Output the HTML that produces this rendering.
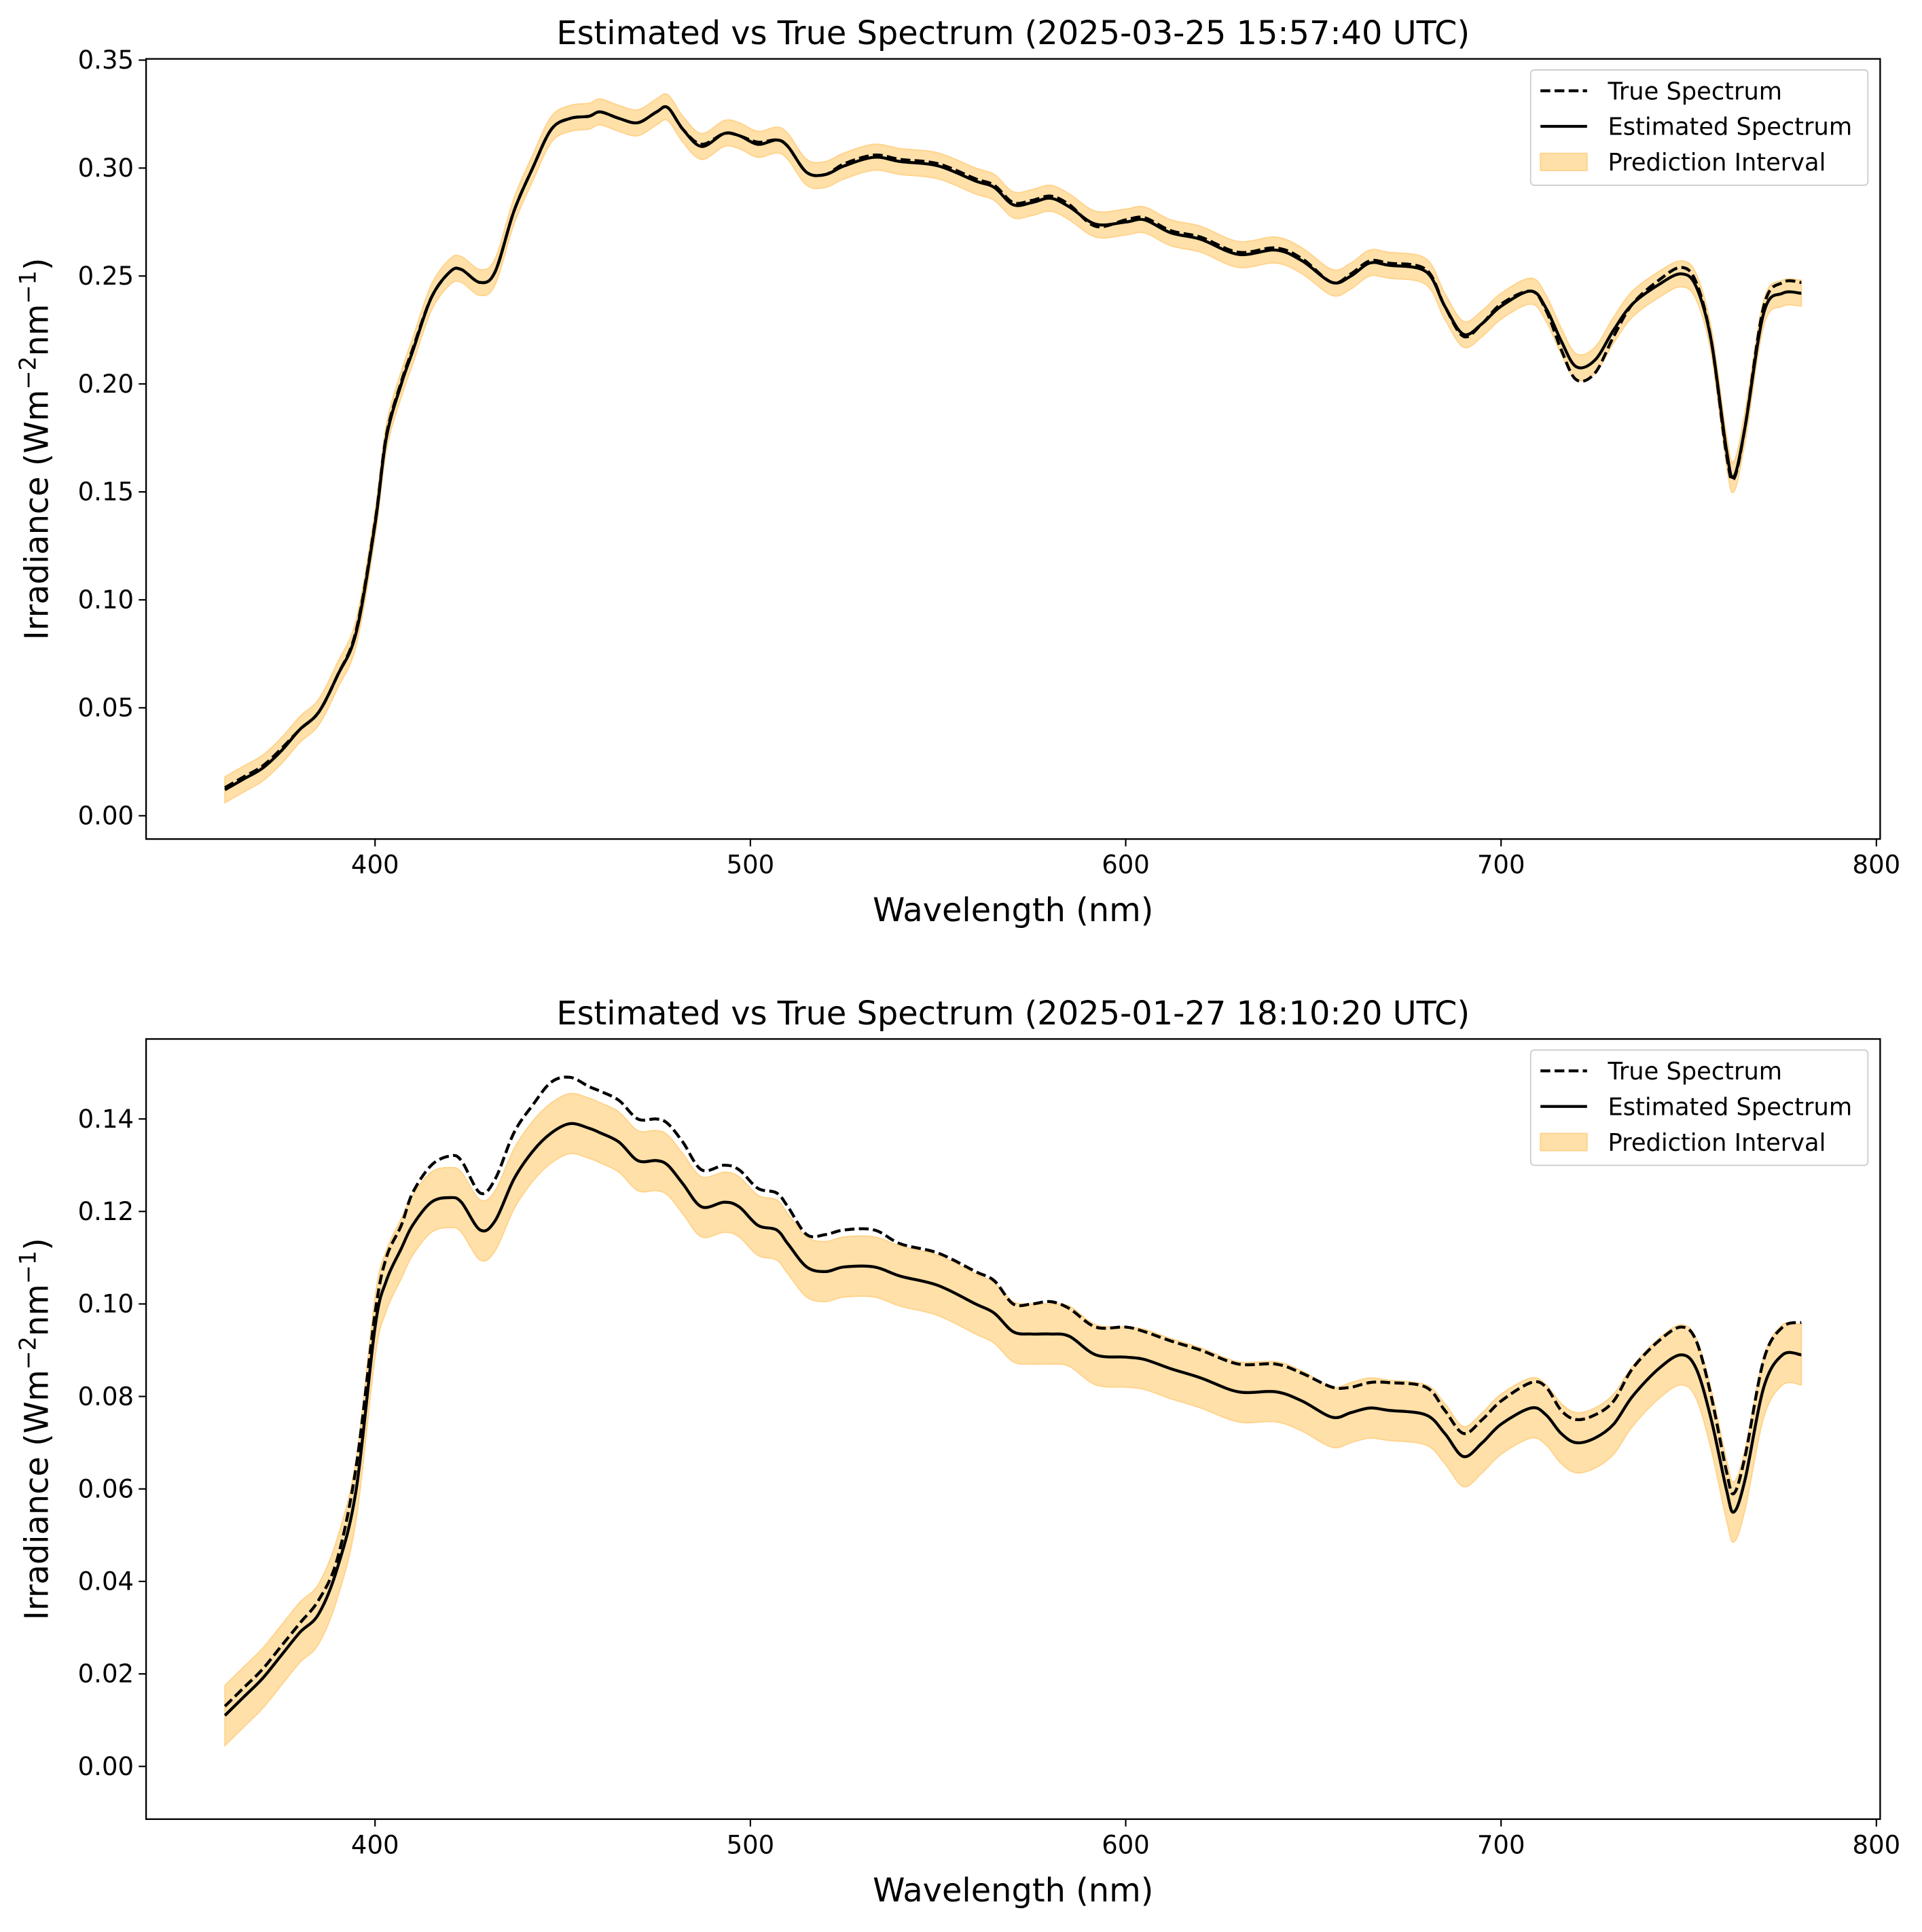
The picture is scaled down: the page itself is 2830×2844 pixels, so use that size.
<!DOCTYPE html>
<html><head><meta charset="utf-8"><style>
html,body{margin:0;padding:0;background:#fff;}
svg{display:block;font-family:"DejaVu Sans","Liberation Sans",sans-serif;}
</style></head><body>
<svg id="chart" width="2830" height="2844" viewBox="0 0 1567 1575" xmlns="http://www.w3.org/2000/svg"></svg>
<script>
const wavelengths=[360,365,370,375,380,385,390,395,400,403,407,410,415,420,423,428,432,437,442,447,452,457,460,465,470,475,478,482,487,493,497,502,507,510,515,520,525,533,540,550,560,565,570,575,580,585,592,600,605,612,620,630,640,647,655,660,665,670,680,685,690,695,700,708,712,716,720,725,730,735,742,748,752,756,760,762,765,770,775,780];
const estTop=[0.012,0.017,0.022,0.030,0.040,0.048,0.065,0.085,0.135,0.175,0.200,0.215,0.240,0.252,0.253,0.247,0.252,0.280,0.300,0.318,0.323,0.324,0.326,0.323,0.321,0.326,0.328,0.318,0.310,0.316,0.315,0.311,0.313,0.310,0.298,0.297,0.301,0.305,0.303,0.301,0.294,0.291,0.283,0.284,0.286,0.282,0.274,0.275,0.276,0.270,0.267,0.260,0.262,0.257,0.247,0.250,0.256,0.255,0.252,0.236,0.223,0.228,0.236,0.243,0.235,0.220,0.208,0.211,0.225,0.237,0.246,0.251,0.245,0.220,0.170,0.157,0.180,0.233,0.242,0.242];
const trueTop=[0.013,0.018,0.023,0.031,0.040,0.048,0.065,0.086,0.136,0.176,0.201,0.216,0.240,0.252,0.253,0.247,0.252,0.280,0.300,0.318,0.323,0.324,0.326,0.323,0.321,0.326,0.328,0.318,0.311,0.316,0.315,0.312,0.313,0.310,0.298,0.297,0.302,0.306,0.304,0.302,0.295,0.292,0.284,0.285,0.287,0.283,0.273,0.276,0.277,0.271,0.268,0.261,0.263,0.258,0.247,0.251,0.257,0.256,0.253,0.236,0.222,0.228,0.237,0.243,0.234,0.216,0.202,0.205,0.222,0.237,0.248,0.254,0.247,0.220,0.168,0.156,0.180,0.236,0.247,0.247];
const bandTop=[0.006,0.006,0.006,0.006,0.006,0.006,0.006,0.006,0.006,0.006,0.006,0.006,0.006,0.006,0.006,0.006,0.006,0.006,0.006,0.006,0.006,0.006,0.006,0.006,0.006,0.006,0.006,0.006,0.006,0.006,0.006,0.006,0.006,0.006,0.006,0.006,0.006,0.006,0.006,0.006,0.006,0.006,0.006,0.006,0.006,0.006,0.006,0.006,0.006,0.006,0.006,0.006,0.006,0.006,0.006,0.006,0.006,0.006,0.006,0.006,0.006,0.006,0.006,0.006,0.006,0.006,0.006,0.006,0.006,0.006,0.006,0.006,0.006,0.006,0.007,0.007,0.007,0.006,0.006,0.006];
const estBot=[0.011,0.015,0.019,0.024,0.029,0.033,0.043,0.060,0.095,0.105,0.112,0.117,0.122,0.123,0.122,0.116,0.118,0.127,0.133,0.137,0.139,0.138,0.137,0.135,0.131,0.131,0.130,0.126,0.121,0.122,0.121,0.117,0.116,0.113,0.108,0.107,0.108,0.108,0.106,0.104,0.100,0.098,0.094,0.0935,0.0935,0.093,0.089,0.0885,0.088,0.086,0.084,0.081,0.081,0.079,0.0755,0.0765,0.0775,0.077,0.076,0.072,0.067,0.070,0.074,0.0775,0.076,0.072,0.070,0.071,0.074,0.080,0.086,0.089,0.086,0.075,0.060,0.055,0.062,0.082,0.089,0.089];
const trueBot=[0.013,0.017,0.021,0.026,0.031,0.036,0.045,0.065,0.098,0.110,0.117,0.124,0.130,0.132,0.131,0.124,0.127,0.137,0.143,0.148,0.149,0.147,0.146,0.144,0.140,0.140,0.139,0.135,0.129,0.130,0.129,0.125,0.124,0.121,0.115,0.115,0.116,0.116,0.113,0.111,0.107,0.105,0.100,0.100,0.1005,0.099,0.095,0.095,0.094,0.092,0.090,0.087,0.087,0.085,0.082,0.082,0.083,0.083,0.082,0.077,0.072,0.075,0.079,0.083,0.082,0.077,0.075,0.076,0.079,0.086,0.092,0.095,0.092,0.080,0.064,0.059,0.067,0.088,0.095,0.096];
const bandBot=[0.0065,0.0065,0.0065,0.0065,0.0065,0.0065,0.0065,0.0065,0.0065,0.0065,0.0065,0.0065,0.0065,0.0065,0.0065,0.0065,0.0065,0.0065,0.0065,0.0065,0.0065,0.0065,0.0065,0.0065,0.0065,0.0065,0.0065,0.0065,0.0065,0.0065,0.0065,0.0065,0.0065,0.0065,0.0065,0.0065,0.0065,0.0065,0.0065,0.0065,0.0065,0.0065,0.0065,0.0065,0.0065,0.0065,0.0065,0.0065,0.0065,0.0065,0.0065,0.0065,0.0065,0.0065,0.0065,0.0065,0.0065,0.0065,0.0065,0.0065,0.0065,0.0065,0.0065,0.0065,0.0065,0.0065,0.0065,0.0065,0.0065,0.0065,0.0065,0.0065,0.0065,0.0065,0.0065,0.0065,0.0065,0.0065,0.0065,0.0065];
const xTicks=[400,500,600,700,800];
const yTicksTop=[0,0.05,0.10,0.15,0.20,0.25,0.30,0.35];
const yTicksBot=[0,0.02,0.04,0.06,0.08,0.10,0.12,0.14];
const titles=["Estimated vs True Spectrum (2025-03-25 15:57:40 UTC)","Estimated vs True Spectrum (2025-01-27 18:10:20 UTC)"];

const NS="http://www.w3.org/2000/svg";
const svg=document.getElementById('chart');
function mk(tag,attrs,parent){const e=document.createElementNS(NS,tag);for(const k in attrs)e.setAttribute(k,attrs[k]);(parent||svg).appendChild(e);return e;}
function smooth(pts){let d='M'+pts[0][0].toFixed(2)+','+pts[0][1].toFixed(2);for(let i=0;i<pts.length-1;i++){const p0=pts[Math.max(0,i-1)],p1=pts[i],p2=pts[i+1],p3=pts[Math.min(pts.length-1,i+2)];const c1=[p1[0]+(p2[0]-p0[0])/6,p1[1]+(p2[1]-p0[1])/6],c2=[p2[0]-(p3[0]-p1[0])/6,p2[1]-(p3[1]-p1[1])/6];d+=' C'+c1[0].toFixed(2)+','+c1[1].toFixed(2)+' '+c2[0].toFixed(2)+','+c2[1].toFixed(2)+' '+p2[0].toFixed(2)+','+p2[1].toFixed(2);}return d;}

function panel(idx,top,bottom,y0px,yTicks,dec,est,tru,band,legTop){
  const L=119,R=1533;
  const xs=v=>L+(v-339)*(R-L)/462;
  const ys=v=>y0px.base-v*y0px.scale;
  const g=mk('g',{});
  
  
  const up=wavelengths.map((w,i)=>[xs(w),ys(est[i]+band[i])]);
  const lo=wavelengths.map((w,i)=>[xs(w),ys(est[i]-band[i])]).reverse();
  const d=smooth(up)+' L'+smooth(lo).slice(1)+' Z';
  const b=mk('path',{d:d,fill:'#ffe0a8',stroke:'#ffd28a','stroke-width':1},g);
  
  
  const t=mk('path',{d:smooth(wavelengths.map((w,i)=>[xs(w),ys(tru[i])])),fill:'none',stroke:'#000','stroke-width':2.4,'stroke-dasharray':'8,3.5'},g);
  
  
  const e=mk('path',{d:smooth(wavelengths.map((w,i)=>[xs(w),ys(est[i])])),fill:'none',stroke:'#000','stroke-width':2.4},g);
  
  
  const fr=mk('rect',{x:L,y:top,width:R-L,height:bottom-top,fill:'none',stroke:'#000','stroke-width':1.3},g);
  
  
  xTicks.forEach(v=>{const x=xs(v);mk('line',{x1:x,x2:x,y1:bottom,y2:bottom+6,stroke:'#000','stroke-width':1.2},g);
    const tx=mk('text',{x:x,y:bottom+28,'font-size':20.5,'text-anchor':'middle'},g);tx.textContent=v;
    
    });
  yTicks.forEach(v=>{const y=ys(v);mk('line',{x1:L-6,x2:L,y1:y,y2:y,stroke:'#000','stroke-width':1.2},g);
    const tx=mk('text',{x:L-10,y:y+7,'font-size':20.5,'text-anchor':'end'},g);tx.textContent=v.toFixed(dec);
    
    });
  const ti=mk('text',{x:(L+R)/2,y:top-12,'font-size':26.5,'text-anchor':'middle'},g);ti.textContent=titles[idx];
  
  
  const xl=mk('text',{x:(L+R)/2,y:bottom+67,'font-size':26.5,'text-anchor':'middle'},g);xl.textContent='Wavelength (nm)';
  
  
  const yl=mk('text',{x:0,y:0,'font-size':26.5,'text-anchor':'middle',transform:'translate(39,'+((top+bottom)/2)+') rotate(-90)'},g);
  yl.innerHTML='Irradiance (Wm<tspan dy="-10" font-size="18.5">−2</tspan><tspan dy="10">nm</tspan><tspan dy="-10" font-size="18.5">−1</tspan><tspan dy="10">)</tspan>';
  
  
  const lg=mk('g',{},g);
  
  
  mk('rect',{x:1248,y:legTop,width:275,height:94,rx:3,fill:'#fff','fill-opacity':0.8,stroke:'#ccc','stroke-width':1},lg);
  mk('line',{x1:1256,x2:1294,y1:legTop+17,y2:legTop+17,stroke:'#000','stroke-width':2.4,'stroke-dasharray':'8,3.5'},lg);
  mk('line',{x1:1256,x2:1294,y1:legTop+46,y2:legTop+46,stroke:'#000','stroke-width':2.4},lg);
  mk('rect',{x:1256,y:legTop+68,width:38,height:14,fill:'#ffe0a8',stroke:'#ffd28a'},lg);
  [['True Spectrum',24],['Estimated Spectrum',53],['Prediction Interval',82]].forEach(a=>{const tx=mk('text',{x:1311,y:legTop+a[1],'font-size':19.5},lg);tx.textContent=a[0];
    
    });
}
panel(0,48,684,{base:665,scale:1760},yTicksTop,2,estTop,trueTop,bandTop,57);
panel(1,847,1483,{base:1440,scale:3770},yTicksBot,2,estBot,trueBot,bandBot,856);
</script>
</body></html>
